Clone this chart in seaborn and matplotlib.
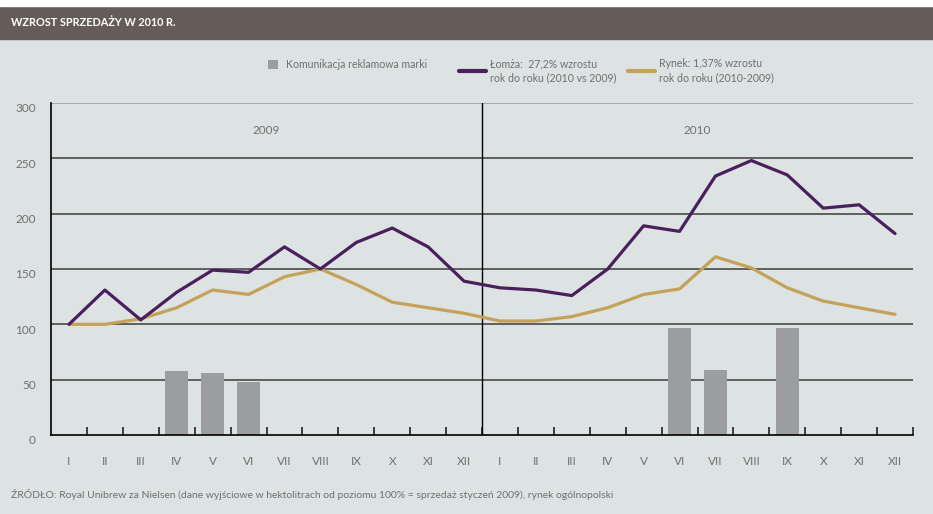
import numpy as np
import pandas as pd
import matplotlib
matplotlib.use("Agg")
import matplotlib.pyplot as plt
import matplotlib.transforms as mtransforms
from matplotlib.patches import Rectangle
import seaborn as sns

# data (index, 100 = January 2009)
months = ["I", "II", "III", "IV", "V", "VI", "VII", "VIII", "IX", "X", "XI", "XII"]
years = ["2009", "2010"]
lomza = [100, 131, 104, 129, 149, 147, 170, 150, 174, 187, 170, 139,
         133, 131, 126, 150, 189, 184, 234, 248, 235, 205, 208, 182]
rynek = [100, 100, 105, 115, 131, 127, 143, 150, 136, 120, 115, 110,
         103, 103, 107, 115, 127, 132, 161, 151, 133, 121, 115, 109]
promo = [0, 0, 0, 58, 56, 48, 0, 0, 0, 0, 0, 0,
         0, 0, 0, 0, 0, 97, 59, 0, 97, 0, 0, 0]

lbl_promo = "Komunikacja reklamowa marki"
lbl_lomza = "Łomża:  27,2% wzrostu\nrok do roku (2010 vs 2009)"
lbl_rynek = "Rynek: 1,37% wzrostu\nrok do roku (2010-2009)"
title = "WZROST SPRZEDAŻY W 2010 R."
source = ("ŹRÓDŁO: Royal Unibrew za Nielsen (dane wyjściowe w hektolitrach od poziomu "
          "100% = sprzedaż styczeń 2009), rynek ogólnopolski")

BG = "#dde2e2"
PURPLE = "#4a1f5e"
GOLD = "#c5a25a"
BARC = "#9c9d9e"
TXT = "#707070"

df = pd.DataFrame({
    "idx": np.arange(len(lomza)),
    "lomza": lomza,
    "rynek": rynek,
    "promo": promo,
})

sns.set_style("white")
plt.rcParams["font.family"] = ["Lato", "DejaVu Sans"]

fig = plt.figure(figsize=(9.33, 5.14), dpi=100, facecolor=BG)
# header band
fig.patches.append(Rectangle((0, 1 - 39 / 514), 1, 33 / 514, transform=fig.transFigure,
                             color="#655c57", zorder=0))
fig.patches.append(Rectangle((0, 1 - 6 / 514), 1, 6 / 514, transform=fig.transFigure,
                             color="white", zorder=0))
fig.text(11 / 933, 1 - 23 / 514, title, color="white", fontsize=7.8,
         fontweight="bold", va="center", ha="left")

ax = fig.add_axes([51 / 933, (514 - 435) / 514, 862 / 933, 332 / 514])
ax.set_facecolor(BG)

sns.barplot(data=df, x="idx", y="promo", color=BARC, width=0.65, linewidth=0,
            saturation=1, ax=ax, zorder=2, label=lbl_promo)
sns.lineplot(data=df, x="idx", y="lomza", color=PURPLE, linewidth=2.3,
             ax=ax, zorder=4, label=lbl_lomza)
sns.lineplot(data=df, x="idx", y="rynek", color=GOLD, linewidth=2.3,
             ax=ax, zorder=3, label=lbl_rynek)

ax.set_xlim(-0.5, 23.5)
ax.set_ylim(0, 300)
ax.set_xlabel("")
ax.set_ylabel("")

# grid
for v in [50, 100, 150, 200, 250]:
    ax.axhline(v, color="#3c3c3c", lw=1.1, zorder=1)
ax.axhline(300, color="#9a9a9a", lw=1.1, zorder=1)
ax.axvline(11.5, color="black", lw=1.0, zorder=1)

for s in ["top", "right"]:
    ax.spines[s].set_visible(False)
for s in ["left", "bottom"]:
    ax.spines[s].set_color("black")
    ax.spines[s].set_linewidth(1.2)

ax.set_yticks([0, 50, 100, 150, 200, 250, 300])
ax.tick_params(axis="y", length=0, pad=11, labelsize=8.5, labelcolor=TXT)
offset = mtransforms.ScaledTranslation(0, -5 / 100, fig.dpi_scale_trans)
for lab in ax.get_yticklabels():
    lab.set_transform(lab.get_transform() + offset)

ax.set_xticks(np.arange(24))
ax.set_xticklabels(months * 2)
ax.tick_params(axis="x", which="major", bottom=True, length=0, pad=15,
               labelsize=8.5, labelcolor=TXT)
ax.set_xticks(np.arange(0.5, 24, 1), minor=True)
ax.tick_params(axis="x", which="minor", bottom=True, direction="in", length=6,
               width=1.2, color="#222222")

ax.text(5.5, 275, years[0], ha="center", va="center", fontsize=8.5, color=TXT)
ax.text(17.5, 275, years[1], ha="center", va="center", fontsize=8.5, color=TXT)

# legend: three separate blocks placed like the reference
handles, labels = ax.get_legend_handles_labels()
hmap = dict(zip(labels, handles))
if ax.get_legend():
    ax.get_legend().remove()
common = dict(frameon=False, fontsize=7.6, labelcolor=TXT, borderpad=0,
              borderaxespad=0, loc="upper left", labelspacing=0)
leg1 = fig.legend([hmap[lbl_promo]], [lbl_promo], handlelength=0.95, handleheight=0.95,
                  handletextpad=0.8, bbox_to_anchor=(268 / 933, 1 - 59 / 514), **common)
leg2 = fig.legend([hmap[lbl_lomza]], [lbl_lomza], handlelength=2.6, handletextpad=0.35,
                  bbox_to_anchor=(459 / 933, 1 - 58 / 514), **common)
leg3 = fig.legend([hmap[lbl_rynek]], [lbl_rynek], handlelength=2.6, handletextpad=0.35,
                  bbox_to_anchor=(628 / 933, 1 - 58 / 514), **common)
for lg in (leg2, leg3):
    for h in lg.legend_handles:
        h.set_linewidth(3)
    for t in lg.get_texts():
        t.set_linespacing(1.35)

fig.text(11 / 933, 1 - 494 / 514, source, color=TXT, fontsize=7.5, va="center", ha="left")

fig.savefig("out.png", dpi=100, facecolor=BG)
